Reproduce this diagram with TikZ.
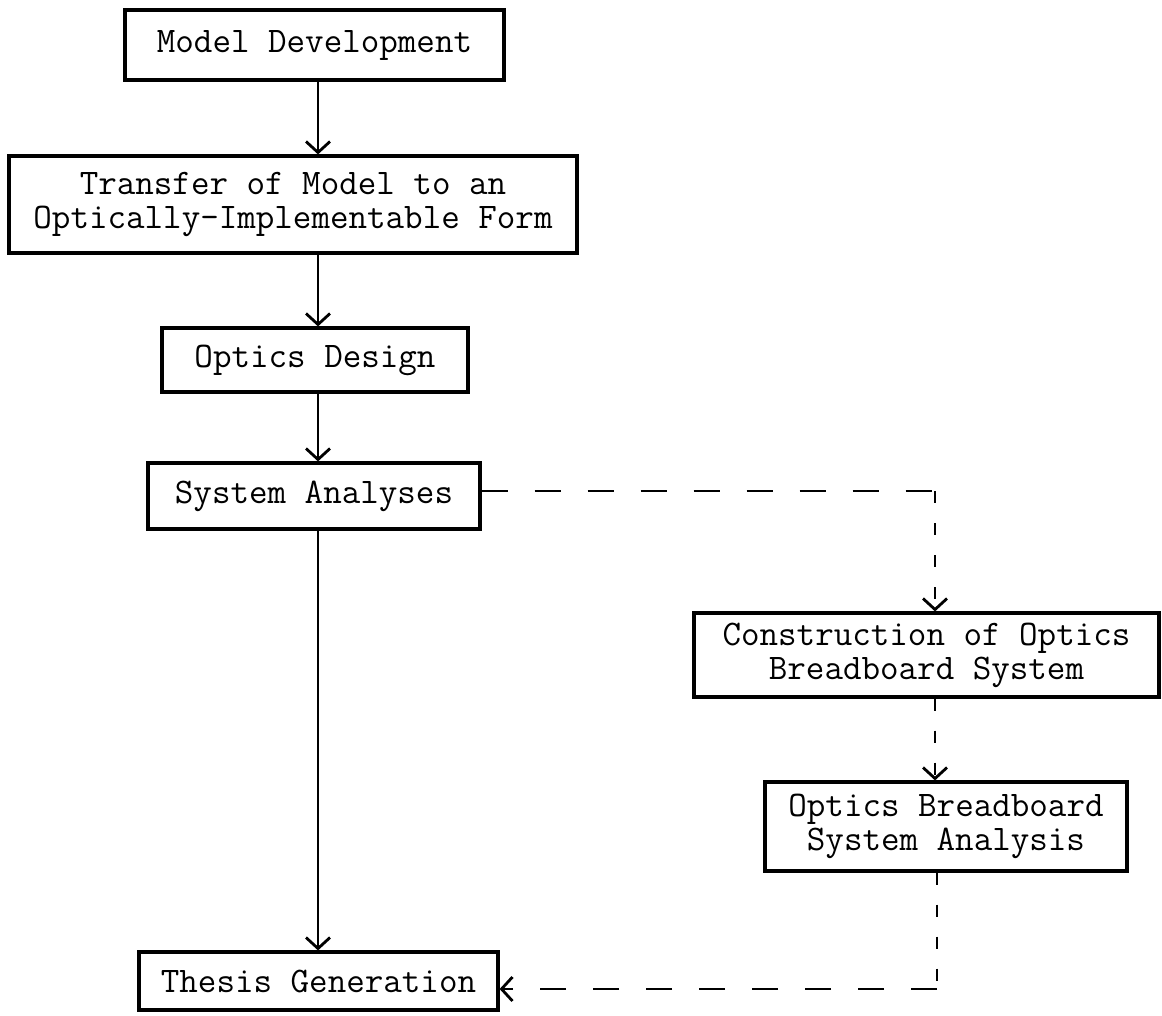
\documentclass[tikz,border=0pt]{standalone}
\usetikzlibrary{arrows.meta}
\begin{document}
\begin{tikzpicture}[x=1pt,y=-1pt,
  box/.style={draw, line width=3.2pt, inner sep=0pt, align=center,
    font={\ttfamily\fontsize{36}{34}\selectfont}},
  conn/.style={line width=2.8pt},
  tip/.style={-{Straight Barb[length=11pt,width=24pt,line width=2.8pt]}},
  hdash/.style={conn, dash pattern=on 26pt off 27pt},
  vdash/.style={conn, dash pattern=on 12pt off 20pt}]
\useasboundingbox (0,0) rectangle (1162,1015);
\fill[white] (0,0) rectangle (1162,1015);

\node[box, minimum width=379pt, minimum height=70pt] (B1) at (314.5,45) {Model Development};
\node[box, minimum width=568pt, minimum height=97pt] (B2) at (293,204.5) {Transfer of Model to an\\Optically-Implementable Form};
\node[box, minimum width=306pt, minimum height=64pt] (B3) at (315,360) {Optics Design};
\node[box, minimum width=332pt, minimum height=66pt] (B4) at (314,496) {System Analyses};
\node[box, minimum width=465pt, minimum height=84pt] (B5) at (926.5,655) {Construction of Optics\\Breadboard System};
\node[box, minimum width=362pt, minimum height=89pt] (B6) at (946,826.5) {Optics Breadboard\\System Analysis};
\node[box, minimum width=359pt, minimum height=58pt] (B7) at (318.5,981) {Thesis Generation};

\coordinate (sp) at (318,0);
\coordinate (c1) at (935,491);
\coordinate (c2) at (937,989);

\draw[conn,tip] (sp |- B1.south) -- (sp |- B2.north);
\draw[conn,tip] (sp |- B2.south) -- (sp |- B3.north);
\draw[conn,tip] (sp |- B3.south) -- (sp |- B4.north);
\draw[conn,tip] (sp |- B4.south) -- (sp |- B7.north);

\draw[hdash] (B4.east |- c1) -- (c1);
\draw[vdash,tip] (c1) -- (c1 |- B5.north);
\draw[vdash,tip] (B5.south -| c1) -- (B6.north -| c1);
\draw[vdash] (B6.south -| c2) -- (c2);
\draw[hdash,tip] (c2) -- (B7.east |- c2);
\end{tikzpicture}
\end{document}
